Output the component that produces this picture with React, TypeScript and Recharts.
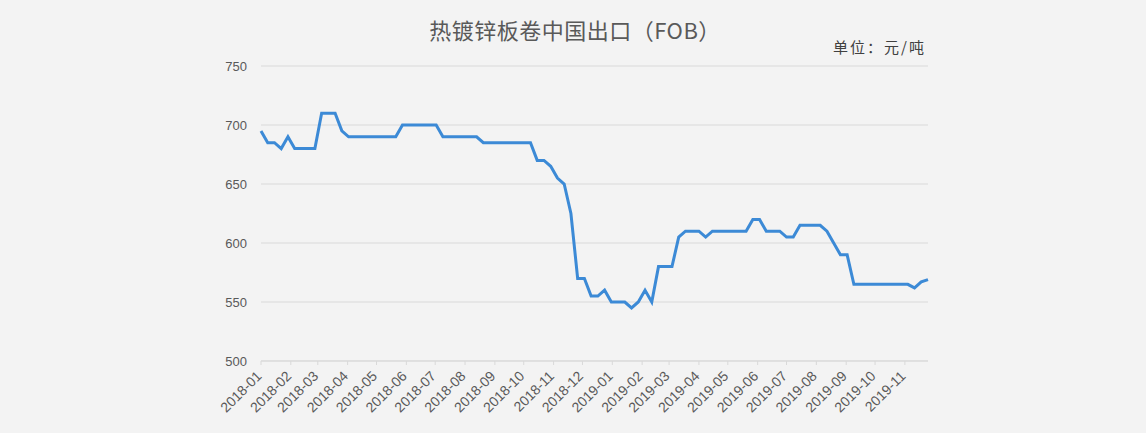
import { CartesianGrid, Line, LineChart, XAxis, YAxis } from "recharts";

// weekly FOB quotes, hot-dip galvanized coil, China export
const weekDates = [
  "2018-01-05", "2018-01-12", "2018-01-19", "2018-01-26",
  "2018-02-02", "2018-02-09", "2018-02-16", "2018-02-23",
  "2018-03-02", "2018-03-09", "2018-03-16", "2018-03-23", "2018-03-30",
  "2018-04-06", "2018-04-13", "2018-04-20", "2018-04-27",
  "2018-05-04", "2018-05-11", "2018-05-18", "2018-05-25",
  "2018-06-01", "2018-06-08", "2018-06-15", "2018-06-22", "2018-06-29",
  "2018-07-06", "2018-07-13", "2018-07-20", "2018-07-27",
  "2018-08-03", "2018-08-10", "2018-08-17", "2018-08-24", "2018-08-31",
  "2018-09-07", "2018-09-14", "2018-09-21", "2018-09-28",
  "2018-10-05", "2018-10-12", "2018-10-19", "2018-10-26",
  "2018-11-02", "2018-11-09", "2018-11-16", "2018-11-23", "2018-11-30",
  "2018-12-07", "2018-12-14", "2018-12-21", "2018-12-28",
  "2019-01-04", "2019-01-11", "2019-01-18", "2019-01-25",
  "2019-02-01", "2019-02-08", "2019-02-15", "2019-02-22",
  "2019-03-01", "2019-03-08", "2019-03-15", "2019-03-22", "2019-03-29",
  "2019-04-05", "2019-04-12", "2019-04-19", "2019-04-26",
  "2019-05-03", "2019-05-10", "2019-05-17", "2019-05-24", "2019-05-31",
  "2019-06-07", "2019-06-14", "2019-06-21", "2019-06-28",
  "2019-07-05", "2019-07-12", "2019-07-19", "2019-07-26",
  "2019-08-02", "2019-08-09", "2019-08-16", "2019-08-23", "2019-08-30",
  "2019-09-06", "2019-09-13", "2019-09-20", "2019-09-27",
  "2019-10-04", "2019-10-11", "2019-10-18", "2019-10-25",
  "2019-11-01", "2019-11-08", "2019-11-15", "2019-11-22", "2019-11-29",
];

const prices = [
  695, 685, 685, 680, 690, 680, 680, 680, 680, 710,
  710, 710, 695, 690, 690, 690, 690, 690, 690, 690,
  690, 700, 700, 700, 700, 700, 700, 690, 690, 690,
  690, 690, 690, 685, 685, 685, 685, 685, 685, 685,
  685, 670, 670, 665, 655, 650, 625, 570, 570, 555,
  555, 560, 550, 550, 550, 545, 550, 560, 550, 580,
  580, 580, 605, 610, 610, 610, 605, 610, 610, 610,
  610, 610, 610, 620, 620, 610, 610, 610, 605, 605,
  615, 615, 615, 615, 610, 600, 590, 590, 565, 565,
  565, 565, 565, 565, 565, 565, 565, 562, 567, 569,
];

const monthLabels = [
  "2018-01", "2018-02", "2018-03", "2018-04", "2018-05", "2018-06",
  "2018-07", "2018-08", "2018-09", "2018-10", "2018-11", "2018-12",
  "2019-01", "2019-02", "2019-03", "2019-04", "2019-05", "2019-06",
  "2019-07", "2019-08", "2019-09", "2019-10", "2019-11",
];

const yTicks = [500, 550, 600, 650, 700, 750];

const DAY_MS = 86400000;
const t0 = Date.parse(weekDates[0]);
const dayOf = (iso: string) => Math.round((Date.parse(iso) - t0) / DAY_MS);

const data = weekDates.map((d, i) => ({ day: dayOf(d), price: prices[i] }));
// date axis: ticks fall on the same day of month as the first point
const monthTicks = monthLabels.map((m) => dayOf(`${m}-05`));
const labelByDay = new Map(monthTicks.map((d, i) => [d, monthLabels[i]]));
const lastDay = data[data.length - 1].day;

const textColor = "#595959";
const gridColor = "#d9d9d9";
const latin = '"Liberation Sans", Arial, sans-serif';
const cjk = '"Noto Sans CJK SC", "Noto Sans", sans-serif';

function MonthTick(props: any) {
  const { x, y, payload } = props;
  return (
    <g transform={`translate(${x + 1.5},${y + 10})`}>
      <text
        x={0}
        y={0}
        textAnchor="end"
        transform="rotate(-45)"
        fill={textColor}
        fontSize={14}
        fontFamily={latin}
      >
        {labelByDay.get(payload.value) ?? ""}
      </text>
    </g>
  );
}

export default function App() {
  return (
    <div
      style={{
        position: "relative",
        width: 1146,
        height: 433,
        background: "#f3f3f3",
        overflow: "hidden",
      }}
    >
      <style>{"body{margin:0}"}</style>
      <div
        style={{
          position: "absolute",
          left: 575,
          top: 17,
          transform: "translateX(-50%)",
          whiteSpace: "nowrap",
          fontFamily: cjk,
          fontSize: 22,
          lineHeight: "24px",
          color: textColor,
          letterSpacing: "0.5px",
        }}
      >
        热镀锌板卷中国出口（FOB）
      </div>
      <div
        style={{
          position: "absolute",
          right: 1146 - 926,
          top: 38,
          whiteSpace: "nowrap",
          fontFamily: cjk,
          fontSize: 15,
          lineHeight: "18px",
          letterSpacing: "2px",
          color: "#404040",
        }}
      >
        单位：元/吨
      </div>
      <LineChart
        width={1146}
        height={433}
        data={data}
        margin={{ top: 66, right: 218, bottom: 12, left: 221 }}
      >
        <CartesianGrid vertical={false} stroke={gridColor} strokeWidth={1} />
        <XAxis
          dataKey="day"
          type="number"
          domain={[0, lastDay]}
          ticks={monthTicks}
          interval={0}
          height={60}
          axisLine={{ stroke: gridColor }}
          tickLine={{ stroke: gridColor }}
          tickSize={4}
          tick={<MonthTick />}
        />
        <YAxis
          domain={[500, 750]}
          ticks={yTicks}
          width={40}
          axisLine={false}
          tickLine={false}
          tickSize={0}
          tickMargin={14}
          tick={{ fill: textColor, fontSize: 13, fontFamily: latin }}
        />
        <Line
          type="linear"
          dataKey="price"
          stroke="#3c8ad6"
          strokeWidth={3}
          dot={false}
          activeDot={false}
          isAnimationActive={false}
        />
      </LineChart>
    </div>
  );
}
